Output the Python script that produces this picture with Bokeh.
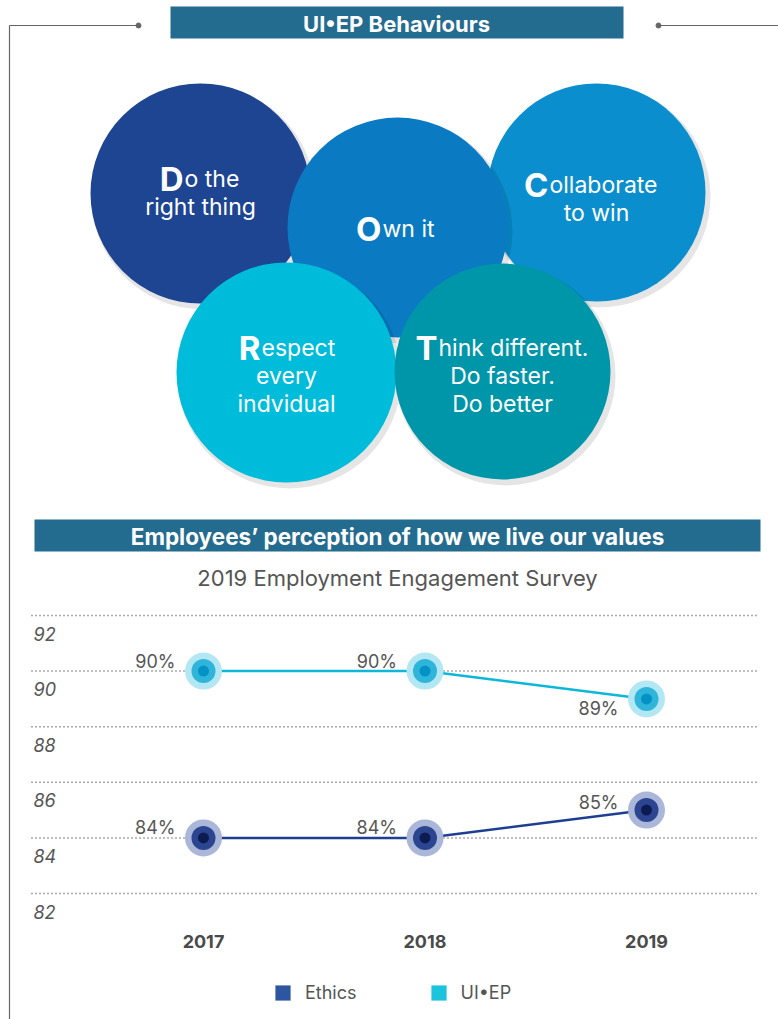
from bokeh.plotting import figure
from bokeh.models import Range1d, Legend, LegendItem
from bokeh.core.properties import value
from bokeh.embed import file_html
from bokeh.resources import INLINE

# ---------------- data ----------------
years = [2017, 2018, 2019]
year_labels = ["2017", "2018", "2019"]
ethics = [84, 84, 85]
uiep = [90, 90, 89]
ethics_labels = ["84%", "84%", "85%"]
uiep_labels = ["90%", "90%", "89%"]
y_ticks = [82, 84, 86, 88, 90, 92]
y_tick_labels = ["82", "84", "86", "88", "90", "92"]
series_names = ["Ethics", "UI•EP"]

header_top = "UI•EP Behaviours"
header_chart = "Employees’ perception of how we live our values"
subtitle = "2019 Employment Engagement Survey"

initials = ["D", "O", "C", "R", "T"]
first_rest = ["o the", "wn it", "ollaborate", "espect", "hink different."]
more_lines = [["right thing"], [], ["to win"], ["every", "indvidual"], ["Do faster.", "Do better"]]

# ---------------- layout / style ----------------
FONT_NAME = "Inter"
FONT = value(FONT_NAME)
GREY = "#555555"
BAR = "#236B8F"
W, H = 778, 1019
circle_x = [200, 397, 596, 286, 502]
circle_y = [193, 227, 192, 372, 371]
circle_r = [110, 110, 109, 110, 108]
circle_col = ["#1E4592", "#0A7BC3", "#0A8ECD", "#00BCDB", "#0096A9"]
draw_order = [0, 2, 1, 3, 4]
split_x = [183, 381, 548, 260, 437]
base_y = [178, 228, 184, 347, 347]
line_gap = 28

uiep_dy = [-10, -10, 10]
ethics_dy = [-10, -10, -8]

p = figure(width=W, height=H, x_range=Range1d(0, W), y_range=Range1d(H, 0),
           output_backend="svg", toolbar_location=None, min_border=0,
           x_axis_location=None, y_axis_location=None)
p.grid.visible = False
p.outline_line_color = None

# chart scales
ppy = 221.5
ppu = 27.8
p.extra_x_ranges = {"yr": Range1d(2017 - 203 / ppy, 2019 + (W - 646) / ppy)}
p.extra_y_ranges = {"pct": Range1d(82 - (H - 893) / ppu, 82 + 893 / ppu)}

# frame lines
p.line([9, 9], [25, H], line_color="#666666", line_width=1.2)
p.line([9, 138], [25, 25], line_color="#666666", line_width=1.2)
p.line([658, W], [25, 25], line_color="#666666", line_width=1.2)
p.scatter([138, 658], [25, 25], size=5, color="#666666")

# header bars
p.quad(left=[170], right=[623], top=[6], bottom=[38], fill_color=BAR, line_color=None)
p.text(x=[396], y=[23], text=[header_top], text_align="center", text_baseline="middle",
       text_font=FONT, text_font_style="bold", text_font_size="22px", text_color="white")
p.quad(left=[34], right=[760], top=[519], bottom=[551], fill_color=BAR, line_color=None)
p.text(x=[397], y=[536], text=[header_chart], text_align="center", text_baseline="middle",
       text_font=FONT, text_font_style="bold", text_font_size="22.5px", text_color="white")
p.text(x=[397], y=[577], text=[subtitle], text_align="center", text_baseline="middle",
       text_font=FONT, text_font_size="22px", text_color=GREY)

# behaviour circles
for i in draw_order:
    p.circle([circle_x[i] + 3], [circle_y[i] + 4], radius=circle_r[i] + 2,
             fill_color="black", fill_alpha=0.10, line_color=None)
    p.circle([circle_x[i]], [circle_y[i]], radius=circle_r[i],
             fill_color=circle_col[i], line_color=None)
for i in range(5):
    p.text(x=[split_x[i]], y=[base_y[i]], text=[initials[i]], text_align="right",
           text_baseline="alphabetic", text_font=FONT, text_font_style="bold",
           text_font_size="33px", text_color="white")
    p.text(x=[split_x[i] + 1], y=[base_y[i]], text=[first_rest[i]], text_align="left",
           text_baseline="alphabetic", text_font=FONT, text_font_size="23px", text_color="white")
    for k, t in enumerate(more_lines[i]):
        p.text(x=[circle_x[i]], y=[base_y[i] + line_gap * (k + 1)], text=[t], text_align="center",
               text_baseline="alphabetic", text_font=FONT, text_font_size="23px", text_color="white")

# chart: grid lines + y labels
p.segment(x0=31, x1=758, y0=y_ticks, y1=y_ticks, y_range_name="pct",
          line_color="#555555", line_width=1.5, line_dash="1 3")
p.text(x=33, y=y_ticks, text=y_tick_labels, y_range_name="pct", y_offset=18,
       text_align="left", text_baseline="middle", text_font=FONT, text_font_style="italic",
       text_font_size="18px", text_color=GREY)

# series
def series(vals, labels, dys, line_col, halo, mid, inner):
    p.line(years, vals, x_range_name="yr", y_range_name="pct", line_color=line_col, line_width=2.5)
    p.scatter(years, vals, x_range_name="yr", y_range_name="pct", size=37, fill_color=halo, line_color=None)
    p.scatter(years, vals, x_range_name="yr", y_range_name="pct", size=24, fill_color=mid, line_color=None)
    p.scatter(years, vals, x_range_name="yr", y_range_name="pct", size=11, fill_color=inner, line_color=None)
    p.text(x=years, y=vals, text=labels, x_range_name="yr", y_range_name="pct",
           x_offset=-28, y_offset=dys, text_align="right", text_baseline="middle",
           text_font=FONT, text_font_size="18px", text_color=GREY)

series(uiep, uiep_labels, uiep_dy, "#0DB7DA", "#B3E7F3", "#2FB5D9", "#0392C3")
series(ethics, ethics_labels, ethics_dy, "#1E3F91", "#AAB7D9", "#2C4590", "#0D1B53")

# x labels
p.text(x=years, y=941, text=year_labels, x_range_name="yr", text_align="center",
       text_baseline="middle", text_font=FONT, text_font_style="bold",
       text_font_size="18px", text_color="#4A4A4A")

# legend (swatch renderers kept outside the visible area)
r_eth = p.quad(left=[-60], right=[-50], top=[-60], bottom=[-50], fill_color="#2E55A0", line_color=None)
r_ui = p.quad(left=[-60], right=[-50], top=[-60], bottom=[-50], fill_color="#1CC3DD", line_color=None)
legend = Legend(items=[LegendItem(label=series_names[0], renderers=[r_eth]),
                       LegendItem(label=series_names[1], renderers=[r_ui])],
                orientation="horizontal", location=(273, 16), border_line_color=None,
                background_fill_alpha=0, padding=0, margin=0, spacing=72,
                glyph_width=19, glyph_height=19, label_standoff=13, label_height=19,
                label_text_font=FONT_NAME, label_text_font_size="18px", label_text_color=GREY)
p.add_layout(legend)

open("out.html", "w").write(file_html(p, INLINE))
